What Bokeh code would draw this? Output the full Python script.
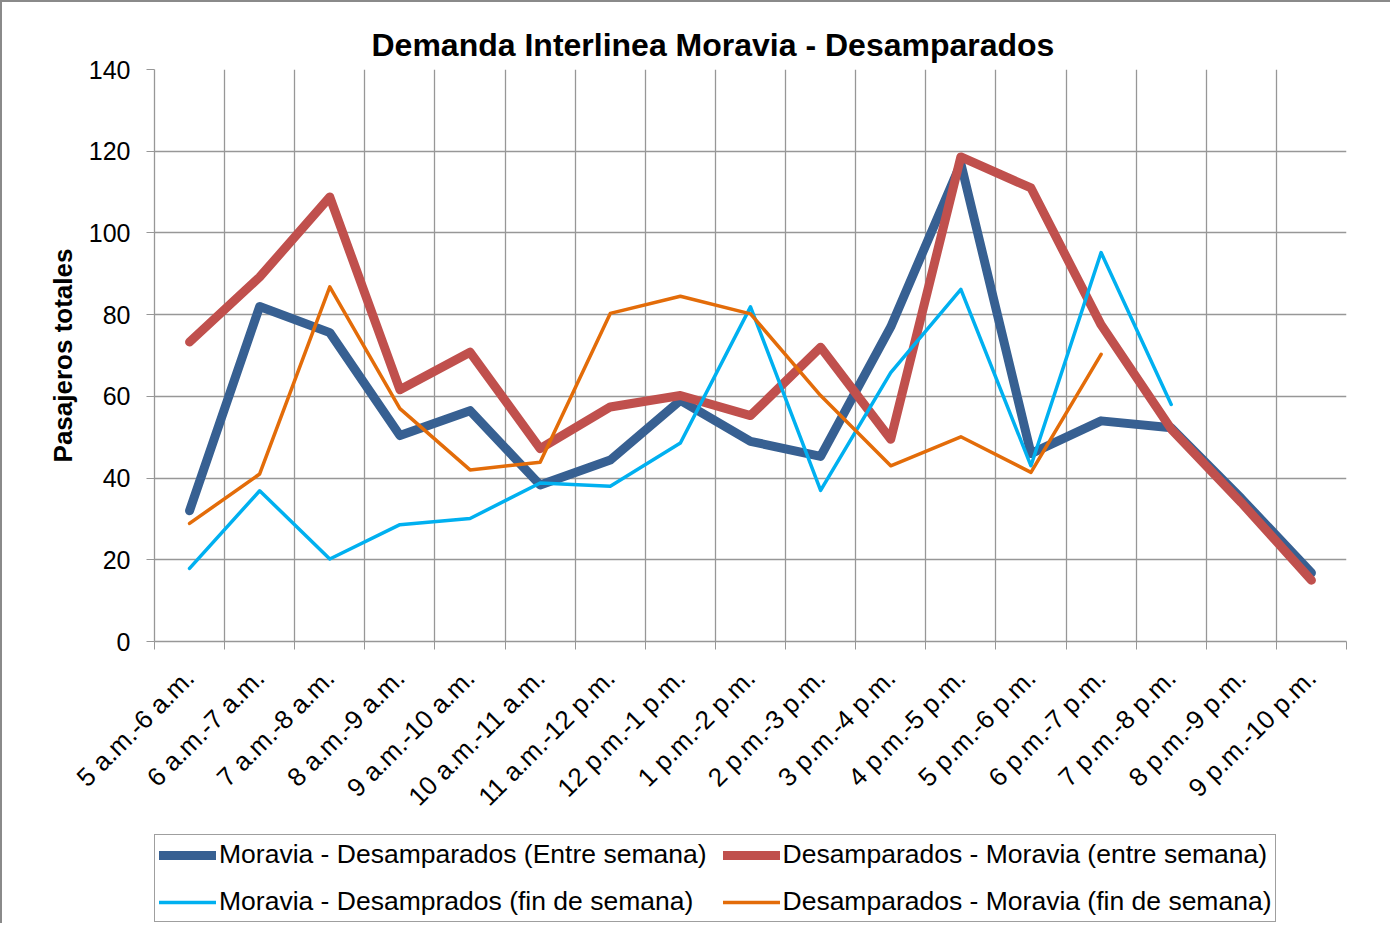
import math
import numpy as np
from bokeh.plotting import figure
from bokeh.layouts import column
from bokeh.models import (FactorRange, Range1d, LinearAxis, CategoricalAxis, FixedTicker,
                          Legend, LegendItem, ColumnDataSource)
from bokeh.embed import file_html
from bokeh.resources import INLINE

categories = ["5 a.m.-6 a.m.", "6 a.m.-7 a.m.", "7 a.m.-8 a.m.", "8 a.m.-9 a.m.",
              "9 a.m.-10 a.m.", "10 a.m.-11 a.m.", "11 a.m.-12 p.m.", "12 p.m.-1 p.m.",
              "1 p.m.-2 p.m.", "2 p.m.-3 p.m.", "3 p.m.-4 p.m.", "4 p.m.-5 p.m.",
              "5 p.m.-6 p.m.", "6 p.m.-7 p.m.", "7 p.m.-8 p.m.", "8 p.m.-9 p.m.",
              "9 p.m.-10 p.m."]

moravia_desamparados_entre = [32, 82, 75.6, 50.4, 56.5, 38.3, 44.4, 59, 49, 45.3,
                              77, 117, 46, 54, 52.3, 35, 16.8]
desamparados_moravia_entre = [73.3, 89.2, 108.8, 61.6, 70.8, 47.2, 57.4, 60.2, 55.3, 72,
                              49.5, 118.6, 111, 77.5, 52, 34, 15]
moravia_desamparados_fin = [17.9, 36.9, 20.2, 28.6, 30.1, 38.8, 38, 48.6, 81.9, 37,
                            65.8, 86.2, 43, 95.2, 58, None, None]
desamparados_moravia_fin = [28.9, 41, 86.8, 57, 42, 43.9, 80.3, 84.5, 80.2, 60.2,
                            43, 50.1, 41.4, 70.3, None, None, None]

series_names = ["Moravia - Desamparados (Entre semana)",
                "Desamparados - Moravia (entre semana)",
                "Moravia - Desamprados (fin de semana)",
                "Desamparados - Moravia (fin de semana)"]
y_ticks = [0, 20, 40, 60, 80, 100, 120, 140]

FONT = "Liberation Sans"
GRID = "#979797"
BORDER = "2px solid #8a8a8a"


def arr(v):
    return np.array([np.nan if x is None else x for x in v], dtype=float)


src = ColumnDataSource(dict(
    cat=categories,
    a=arr(moravia_desamparados_entre),
    b=arr(desamparados_moravia_entre),
    c=arr(moravia_desamparados_fin),
    d=arr(desamparados_moravia_fin),
))

boundaries = list(range(len(categories) + 1))
colors = ["#376092", "#C0504D", "#00B0F0", "#E36C09"]
widths = [9, 9, 3.5, 3.5]
cols = ["a", "b", "c", "d"]

p = figure(width=1390, height=823,
           x_range=FactorRange(*categories, range_padding=0, factor_padding=0),
           y_range=Range1d(0, 140),
           x_axis_location=None,
           output_backend="svg", toolbar_location=None,
           min_border_left=152, min_border_right=46, min_border_top=67,
           min_border_bottom=182,
           title="Demanda Interlinea Moravia - Desamparados")

p.styles = {"border-left": BORDER, "border-top": BORDER}
p.outline_line_color = None
p.background_fill_color = "white"
p.border_fill_color = "white"

p.title.text_font = FONT
p.title.text_font_size = "32px"
p.title.text_font_style = "bold"
p.title.text_color = "black"
p.title.align = "left"
p.title.offset = 217
p.title.standoff = 14

# grid: vertical lines at category boundaries
p.xgrid.ticker = FixedTicker(ticks=boundaries)
p.xgrid.grid_line_color = GRID
p.xgrid.grid_line_width = 1.3
p.ygrid.ticker = FixedTicker(ticks=y_ticks)
p.ygrid.grid_line_color = GRID
p.ygrid.grid_line_width = 1.3

# y axis
ya = p.yaxis[0]
ya.ticker = FixedTicker(ticks=y_ticks)
ya.major_label_text_font = FONT
ya.major_label_text_font_size = "25px"
ya.major_label_text_color = "black"
ya.major_tick_out = 8
ya.major_tick_in = 0
ya.minor_tick_out = 0
ya.minor_tick_in = 0
ya.major_tick_line_color = GRID
ya.axis_line_color = GRID
ya.axis_line_width = 1.3
ya.major_label_standoff = 16
ya.axis_label = "Pasajeros totales"
ya.axis_label_text_font = FONT
ya.axis_label_text_font_size = "26px"
ya.axis_label_text_font_style = "bold"
ya.axis_label_text_color = "black"
ya.axis_label_standoff = 8

# x axis: tick marks at category boundaries (no labels)
edge_axis = LinearAxis(ticker=FixedTicker(ticks=boundaries),
                       major_label_overrides={b: "" for b in boundaries},
                       major_tick_out=8, major_tick_in=0,
                       minor_tick_out=0, minor_tick_in=0,
                       major_tick_line_color=GRID, axis_line_color=GRID,
                       axis_line_width=1.3, major_label_standoff=0)
p.add_layout(edge_axis, "below")

label_axis = CategoricalAxis(major_label_orientation=math.pi / 4,
                             major_tick_out=0, major_tick_in=0,
                             axis_line_color=None,
                             major_label_text_font=FONT,
                             major_label_text_font_size="26px",
                             major_label_text_color="black",
                             major_label_standoff=24)
p.add_layout(label_axis, "below")

for col, c, w in zip(cols, colors, widths):
    p.line(x="cat", y=col, source=src, line_color=c, line_width=w,
           line_join="round", line_cap="round")

# legend strip underneath the chart (frame aligned with the chart's frame)
lg = figure(width=1390, height=100,
            x_range=FactorRange(*categories, range_padding=0, factor_padding=0),
            y_range=Range1d(0, 140),
            x_axis_location=None, y_axis_location=None,
            output_backend="svg", toolbar_location=None, min_border=0)
lg.styles = {"border-left": BORDER}
lg.outline_line_color = None
lg.grid.visible = False
lg.background_fill_color = "white"
lg.border_fill_color = "white"

leg_renderers = []
for col, c, w in zip(cols, colors, widths):
    r = lg.line(x="cat", y=col, source=src, line_color=c, line_width=w,
                line_join="round", line_cap="round", visible=False)
    leg_renderers.append(r)

legend = Legend(items=[LegendItem(label=n, renderers=[r])
                       for n, r in zip(series_names, leg_renderers)],
                location=(0, 1), orientation="horizontal", ncols=2)
legend.label_text_font = FONT
legend.label_text_font_size = "26.5px"
legend.label_text_color = "black"
legend.border_line_color = "#404040"
legend.border_line_width = 1.6
legend.background_fill_color = "white"
legend.background_fill_alpha = 1
legend.inactive_fill_alpha = 0
legend.padding = 4
legend.spacing = 16
legend.margin = 0
legend.glyph_width = 57
legend.glyph_height = 30
legend.label_height = 30
legend.label_standoff = 3
lg.add_layout(legend, "center")

layout = column(p, lg, spacing=0)
open("out.html", "w").write(file_html(layout, INLINE))
